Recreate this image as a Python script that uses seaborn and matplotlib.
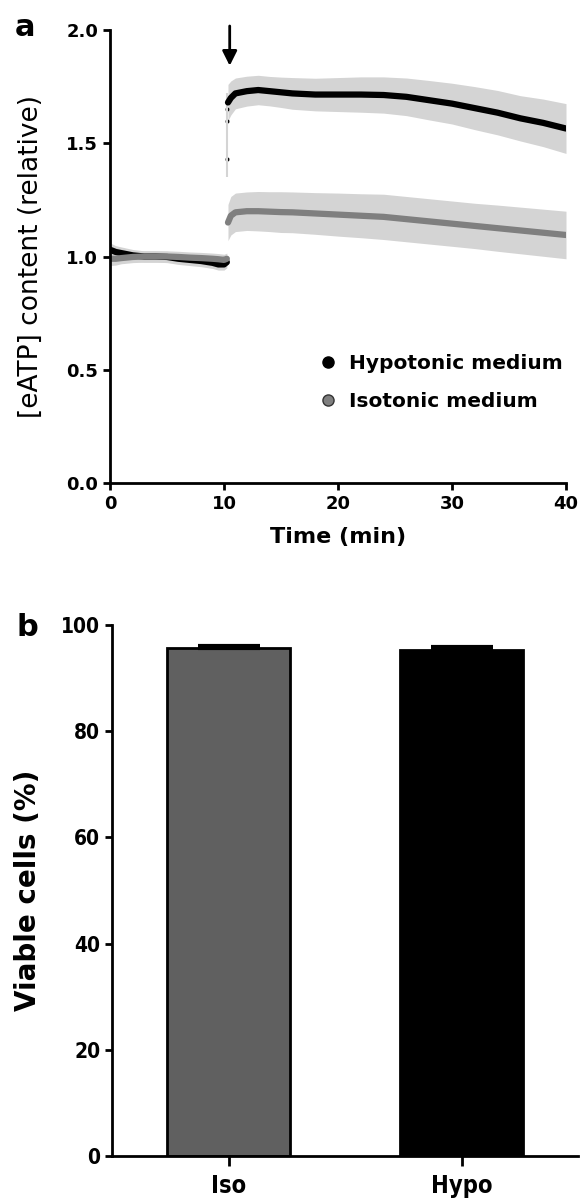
import pandas as pd
import matplotlib
matplotlib.use("Agg")
import matplotlib.pyplot as plt
from matplotlib.lines import Line2D
import seaborn as sns

# Panel a: eATP trace (mean and SEM, relative units)
pre_time = [0, 0.5, 1, 2, 3, 4, 5, 6, 7, 8, 9, 9.5, 10, 10.25]
hypo_pre = [1.03, 1.02, 1.015, 1.005, 1.0, 1.0, 0.998, 0.99, 0.985, 0.98, 0.972, 0.965, 0.965, 0.975]
hypo_pre_sem = [0.03, 0.028, 0.027, 0.026, 0.025, 0.025, 0.025, 0.025, 0.025, 0.025, 0.025, 0.025, 0.025, 0.025]
iso_pre = [0.99, 0.99, 0.993, 0.998, 1.0, 1.0, 1.0, 0.998, 0.995, 0.993, 0.99, 0.988, 0.985, 0.99]
iso_pre_sem = [0.03, 0.028, 0.025, 0.025, 0.025, 0.025, 0.025, 0.025, 0.025, 0.025, 0.025, 0.025, 0.025, 0.025]

post_time = [10.35, 10.6, 11, 12, 13, 14, 15, 16, 18, 20, 22, 24, 26, 28, 30, 32, 34, 36, 38, 40]
hypo_post = [1.68, 1.70, 1.72, 1.73, 1.735, 1.73, 1.725, 1.72, 1.715, 1.715, 1.715, 1.713,
             1.705, 1.69, 1.675, 1.655, 1.635, 1.61, 1.59, 1.565]
hypo_post_sem = [0.08, 0.075, 0.068, 0.066, 0.065, 0.065, 0.067, 0.07, 0.072, 0.075, 0.078, 0.08,
                 0.083, 0.087, 0.09, 0.095, 0.098, 0.1, 0.105, 0.11]
iso_post = [1.15, 1.18, 1.195, 1.2, 1.2, 1.198, 1.196, 1.195, 1.19, 1.185, 1.18, 1.175,
            1.165, 1.155, 1.145, 1.135, 1.125, 1.115, 1.105, 1.095]
iso_post_sem = [0.08, 0.085, 0.085, 0.085, 0.087, 0.088, 0.09, 0.09, 0.092, 0.095, 0.097, 0.1,
                0.1, 0.1, 0.1, 0.1, 0.102, 0.103, 0.104, 0.105]

# the few hypotonic points caught during the step
jump_time = [10.28, 10.28, 10.28]
jump_vals = [1.43, 1.60, 1.65]

# Panel b: viability
groups = ['Iso', 'Hypo']
viable = [95.6, 95.2]
viable_sem = [0.5, 0.6]

BAND = '#d4d4d4'
HYPO_C = '#000000'
ISO_C = '#7f7f7f'

sns.set_style('ticks')
plt.rcParams['font.family'] = ['DejaVu Sans']
plt.rcParams['text.color'] = 'black'
plt.rcParams['axes.labelcolor'] = 'black'
plt.rcParams['xtick.color'] = 'black'
plt.rcParams['ytick.color'] = 'black'
plt.rcParams['axes.edgecolor'] = 'black'


def trace_frame(t_pre, m_pre, s_pre, t_post, m_post, s_post):
    a = pd.DataFrame({'time': t_pre, 'mean': m_pre, 'sem': s_pre, 'seg': 'pre'})
    b = pd.DataFrame({'time': t_post, 'mean': m_post, 'sem': s_post, 'seg': 'post'})
    return pd.concat([a, b], ignore_index=True)


hypo = trace_frame(pre_time, hypo_pre, hypo_pre_sem, post_time, hypo_post, hypo_post_sem)
iso = trace_frame(pre_time, iso_pre, iso_pre_sem, post_time, iso_post, iso_post_sem)

fig = plt.figure(figsize=(5.8, 12.01), dpi=100)
ax1 = fig.add_axes([110 / 580, 1 - 483 / 1201, 456 / 580, 453 / 1201])
ax2 = fig.add_axes([112 / 580, 1 - 1156 / 1201, 466 / 580, 531 / 1201])

# ---- panel a
for df in (hypo, iso):
    for seg, d in df.groupby('seg'):
        ax1.fill_between(d['time'], d['mean'] - d['sem'], d['mean'] + d['sem'],
                         color=BAND, lw=0)
ax1.vlines(10.28, 1.35, 1.72, color=BAND, lw=1.5)

sns.lineplot(data=hypo, x='time', y='mean', units='seg', estimator=None,
             color=HYPO_C, lw=4.5, ax=ax1)
sns.lineplot(data=iso, x='time', y='mean', units='seg', estimator=None,
             color=ISO_C, lw=4.5, ax=ax1)
sns.scatterplot(x=jump_time, y=jump_vals, color=HYPO_C, s=10, ax=ax1)

ax1.set_xlim(0, 40)
ax1.set_ylim(0, 2)
ax1.set_xticks([0, 10, 20, 30, 40])
ax1.set_yticks([0.0, 0.5, 1.0, 1.5, 2.0])
ax1.set_yticklabels(['0.0', '0.5', '1.0', '1.5', '2.0'])
ax1.set_xlabel('Time (min)', fontsize=16, fontweight='bold', labelpad=10)
ax1.set_ylabel('[eATP] content (relative)', fontsize=19, labelpad=16)

ax1.annotate('', xy=(10.5, 1.83), xytext=(10.5, 2.03),
             arrowprops=dict(arrowstyle='-|>', lw=2, color='black', mutation_scale=22),
             annotation_clip=False)

handles = [
    Line2D([], [], marker='o', ls='', color=HYPO_C, markersize=8, label='Hypotonic medium'),
    Line2D([], [], marker='o', ls='', markerfacecolor=ISO_C, markeredgecolor='#333333',
           markersize=8, label='Isotonic medium'),
]
ax1.legend(handles=handles, loc='center left', bbox_to_anchor=(0.395, 0.222),
           frameon=False, handletextpad=0.0, labelspacing=0.95,
           prop={'weight': 'bold', 'size': 14.5})

# ---- panel b
bars = pd.DataFrame({'group': groups, 'viable': viable})
sns.barplot(data=bars, x='group', y='viable', hue='group', palette=['#606060', '#000000'],
            width=0.53, edgecolor='black', linewidth=2, legend=False, ax=ax2)
ax2.errorbar([0, 1], viable, yerr=[[0, 0], viable_sem], fmt='none', ecolor='black',
             elinewidth=2, capsize=22, capthick=3)
ax2.set_xlim(-0.5, 1.5)
ax2.set_ylim(0, 100)
ax2.set_yticks([0, 20, 40, 60, 80, 100])
ax2.set_xlabel('')
ax2.set_ylabel('Viable cells (%)', fontsize=20, fontweight='bold', labelpad=14)

for ax in (ax1, ax2):
    sns.despine(ax=ax)
    for side in ('left', 'bottom'):
        ax.spines[side].set_linewidth(2)
    ax.tick_params(width=2, length=5, direction='out')

for lab in ax1.get_xticklabels() + ax1.get_yticklabels():
    lab.set_fontweight('bold')
    lab.set_fontsize(13)
for lab in ax2.get_xticklabels() + ax2.get_yticklabels():
    lab.set_fontweight('bold')
    lab.set_fontstretch('condensed')
    lab.set_fontsize(15)
for lab in ax2.get_xticklabels():
    lab.set_fontsize(17)
ax2.tick_params(axis='x', length=7, pad=6)

fig.text(25 / 580, 1 - 28 / 1201, 'a', fontsize=22, fontweight='bold', ha='center', va='center')
fig.text(27 / 580, 1 - 628 / 1201, 'b', fontsize=22, fontweight='bold', ha='center', va='center')

fig.savefig('out.png', dpi=100)
